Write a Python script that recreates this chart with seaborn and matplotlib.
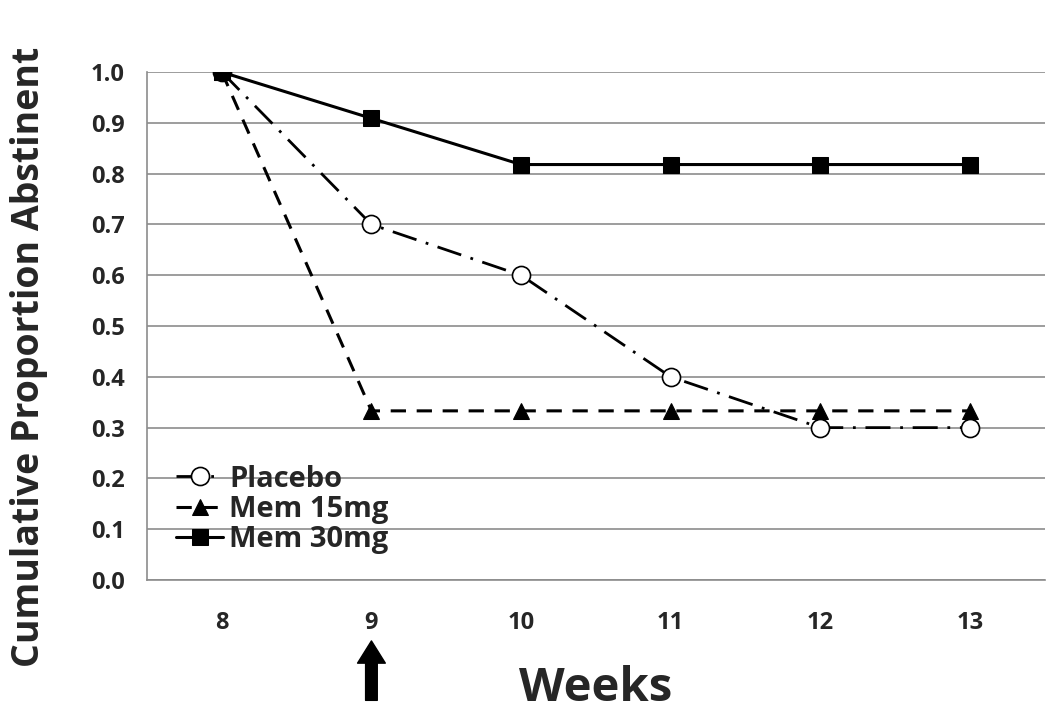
import numpy as np
import pandas as pd
import matplotlib
matplotlib.use("Agg")
import matplotlib.pyplot as plt
import seaborn as sns
from matplotlib.ticker import FixedLocator, NullFormatter

# dados
semanas = ['8', '9', '10', '11', '12', '13']
placebo = [1.0, 0.7, 0.6, 0.4, 0.3, 0.3]
mem15 = [1.0, 0.333, 0.333, 0.333, 0.333, 0.333]
mem30 = [1.0, 0.909, 0.818, 0.818, 0.818, 0.818]
y_ticks = [0.0, 0.1, 0.2, 0.3, 0.4, 0.5, 0.6, 0.7, 0.8, 0.9, 1.0]

df = pd.DataFrame({
    'pos': np.arange(len(semanas)),
    'Placebo': placebo,
    'Mem 15mg': mem15,
    'Mem 30mg': mem30,
})

sns.set_style('white')
plt.rcParams['font.family'] = ['Open Sans', 'DejaVu Sans']
plt.rcParams['font.weight'] = 'bold'

fig = plt.figure(figsize=(10.5, 7.14), dpi=100)
ax = fig.add_axes([0.14, 0.1877, 0.855, 0.7113])

grid_c = '#8c8c8c'
for y in y_ticks:
    ax.axhline(y, color=grid_c, lw=1.2, zorder=0)

sns.lineplot(data=df, x='pos', y='Placebo', ax=ax, color='black', lw=2.0,
             linestyle=(0, (9, 3.5, 1, 3.5)), marker='o', markersize=13,
             markerfacecolor='white', markeredgecolor='black', markeredgewidth=1.2,
             label='Placebo', zorder=3)
sns.lineplot(data=df, x='pos', y='Mem 15mg', ax=ax, color='black', lw=2.2,
             linestyle=(0, (5, 3.5)), marker='^', markersize=12,
             markeredgecolor='black', label='Mem 15mg', zorder=3)
sns.lineplot(data=df, x='pos', y='Mem 30mg', ax=ax, color='black', lw=2.2,
             linestyle='-', marker='s', markersize=12,
             markeredgecolor='black', label='Mem 30mg', zorder=4)

ax.set_xlim(-0.5, len(semanas) - 0.5)
ax.set_ylim(0, 1.0)
ax.set_xticks(df['pos'])
ax.set_xticklabels(semanas, fontsize=17, fontweight='bold')
ax.xaxis.set_minor_locator(FixedLocator(np.arange(-0.5, len(semanas), 1.0)))
ax.xaxis.set_minor_formatter(NullFormatter())
ax.tick_params(axis='x', which='major', length=0, pad=22)
ax.tick_params(axis='x', which='minor', length=9, width=1.2, color=grid_c, direction='out')
ax.set_yticks(y_ticks)
ax.set_yticklabels([f'{v:.1f}' for v in y_ticks], fontsize=17, fontweight='bold')
ax.tick_params(axis='y', length=10, width=1.2, color=grid_c, direction='out', pad=6)

for s in ['top', 'right']:
    ax.spines[s].set_visible(False)
for s in ['left', 'bottom']:
    ax.spines[s].set_color(grid_c)
    ax.spines[s].set_linewidth(1.2)

ax.set_xlabel('Weeks', fontsize=34, fontweight='bold', labelpad=22)
ax.set_ylabel('Cumulative Proportion Abstinent', fontsize=27, fontweight='bold')
ax.yaxis.set_label_coords(-0.11, 0.44)

# seta na semana 9
ax.annotate('', xy=(1, -0.12), xytext=(1, -0.237),
            xycoords=('data', 'axes fraction'), textcoords=('data', 'axes fraction'),
            arrowprops=dict(arrowstyle='simple,head_length=0.8,head_width=1.0,tail_width=0.42',
                            mutation_scale=20, color='black', shrinkA=0, shrinkB=0),
            annotation_clip=False)

leg = ax.legend(loc='lower left', bbox_to_anchor=(0.01, 0.01), frameon=False,
                fontsize=21, handlelength=1.6, handletextpad=0.2, labelspacing=0.05,
                borderaxespad=0.3)
for t in leg.get_texts():
    t.set_fontweight('bold')

fig.savefig('out.png', dpi=100)
